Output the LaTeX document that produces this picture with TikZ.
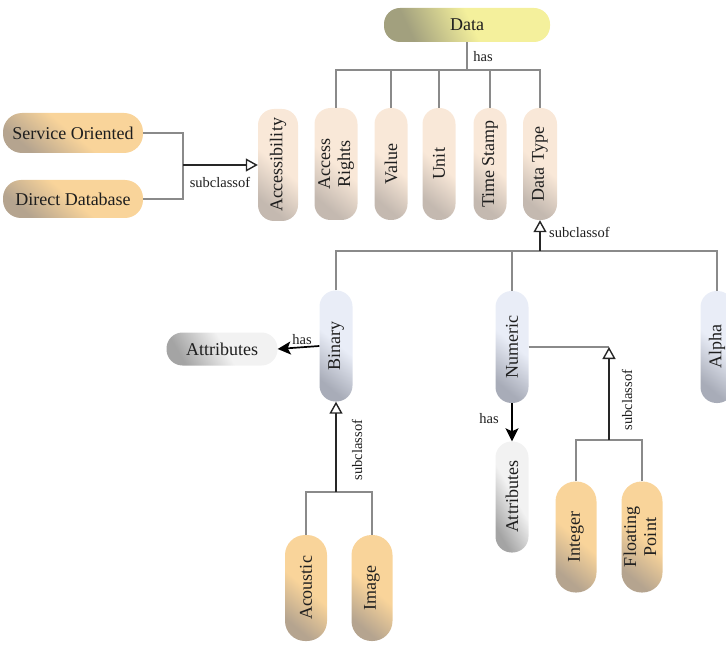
\documentclass[tikz,border=0pt]{standalone}
\usepackage{fontspec}
\usepackage{graphicx}
\setmainfont{Liberation Serif}
\usetikzlibrary{arrows.meta,calc}

\definecolor{txt}{HTML}{1E1E1E}
\definecolor{orangeL}{HTML}{F9D49A}
\definecolor{orangeD}{HTML}{B5A48F}
\definecolor{peachL}{HTML}{F9E8D8}
\definecolor{peachD}{HTML}{C4B9B0}
\definecolor{blueL}{HTML}{E9EDF7}
\definecolor{blueD}{HTML}{A8ACB8}
\definecolor{grayL}{HTML}{F2F2F2}
\definecolor{grayD}{HTML}{A4A4A4}
\definecolor{dataL}{HTML}{F4F09C}
\definecolor{dataD}{HTML}{A2A07E}
\definecolor{linegray}{HTML}{8A8A8A}

% pill shadings: light over most of the body, darkening toward one corner
\pgfdeclareverticalshading{shorange}{100bp}{color(0bp)=(orangeD); color(26bp)=(orangeD); color(50bp)=(orangeL); color(100bp)=(orangeL)}
\pgfdeclareverticalshading{shpeach}{100bp}{color(0bp)=(peachD); color(26bp)=(peachD); color(50bp)=(peachL); color(100bp)=(peachL)}
\pgfdeclareverticalshading{shblue}{100bp}{color(0bp)=(blueD); color(26bp)=(blueD); color(52bp)=(blueL); color(100bp)=(blueL)}
\pgfdeclareverticalshading{shgray}{100bp}{color(0bp)=(grayD); color(26bp)=(grayD); color(52bp)=(grayL); color(100bp)=(grayL)}
\pgfdeclareverticalshading{shdata}{100bp}{color(0bp)=(dataD); color(28bp)=(dataD); color(52bp)=(dataL); color(100bp)=(dataL)}

\newcommand\pillfont{\fontsize{18}{20}\selectfont}
\newcommand\lblfont{\fontsize{14.5}{16}\selectfont}
\newcommand\vtext[1]{\rotatebox{90}{#1}}
\newcommand\vtwo[2]{\rotatebox{90}{\begin{tabular}{@{}c@{}}#1\\#2\end{tabular}}}

\tikzset{
  pill/.style={inner sep=0pt, align=center, font=\pillfont, text=txt},
  vpill/.style={pill, minimum width=#1, minimum height=112pt, rounded corners=16pt},
  vpill/.default=33pt,
  orangefill/.style={shading=shorange, shading angle=-40},
  peachfill/.style={shading=shpeach, shading angle=-40},
  bluefill/.style={shading=shblue, shading angle=-40},
  grayfill/.style={shading=shgray, shading angle=-60},
  datafill/.style={shading=shdata, shading angle=-65},
  conn/.style={draw=linegray, line width=1.1pt},
  sub/.style={draw=black!85, line width=1.7pt, -{Triangle[open, length=12pt, width=13pt, line width=1.4pt]}},
  has/.style={draw=black, line width=1.7pt, -{Stealth[length=13pt, width=13pt, inset=3pt]}},
  lbl/.style={font=\lblfont, text=txt, inner sep=1pt},
}

\begin{document}
\begin{tikzpicture}[x=1pt, y=-1pt]
\useasboundingbox (0,0) rectangle (726,647);
\clip (0,0) rectangle (726,647);

% root
\node[pill, datafill, minimum width=166pt, minimum height=34pt, rounded corners=16pt] (data) at (467,25) {Data};

% properties of Data
\node[vpill=40pt, peachfill] (access) at (278,165) {\vtext{Accessibility}};
\node[vpill=43pt, peachfill] (rights) at (336,164) {\vtwo{Access}{Rights}};
\node[vpill, peachfill] (value) at (391,164) {\vtext{Value}};
\node[vpill, peachfill] (unit) at (439,164) {\vtext{Unit}};
\node[vpill, peachfill] (stamp) at (490,164) {\vtext{Time Stamp}};
\node[vpill=34pt, peachfill] (dtype) at (540,164) {\vtext{Data Type}};

% accessibility kinds
\node[pill, orangefill, minimum width=140pt, minimum height=40pt, rounded corners=19pt] (svc) at (73,133) {Service Oriented};
\node[pill, orangefill, minimum width=140pt, minimum height=38pt, rounded corners=18pt] (ddb) at (73,199) {Direct Database};

% data types
\node[vpill, bluefill, minimum height=111pt] (binary) at (336,346) {\vtext{Binary}};
\node[vpill, bluefill] (numeric) at (512,347) {\vtext{Numeric}};
\node[vpill, bluefill] (alpha) at (717,347) {\vtext{Alpha}};

% attributes
\node[pill, grayfill, minimum width=111pt, minimum height=33pt, rounded corners=16pt] (attrb) at (222,349) {Attributes};
\node[vpill, grayfill, minimum height=111pt] (attrn) at (512,497) {\vtext{Attributes}};

% binary kinds
\node[vpill=42pt, orangefill, minimum height=106pt, rounded corners=20pt] (acoustic) at (306,588) {\vtext{Acoustic}};
\node[vpill=41pt, orangefill, minimum height=106pt, rounded corners=20pt] (image) at (372,588) {\vtext{Image}};

% numeric kinds
\node[vpill=41pt, orangefill, minimum height=111pt, rounded corners=20pt] (integer) at (576,537) {\vtext{Integer}};
\node[vpill=41pt, orangefill, minimum height=111pt, rounded corners=20pt] (floating) at (642,537) {\vtwo{Floating}{Point}};

% junctions
\coordinate (hasj) at (467,70);
\coordinate (accj) at (183,165);
\coordinate (dtj) at (540,251);
\coordinate (binj) at (336,492);
\coordinate (numj) at (609,440);

% Data has ...
\draw[conn] (data.south) -- (hasj);
\foreach \n in {rights,value,unit,stamp,dtype}
  \draw[conn] (\n.north) |- (hasj);
\node[lbl] at (483,57) {has};

% accessibility subclasses
\draw[conn] (svc.east) -| (accj);
\draw[conn] (ddb.east) -| (accj);
\draw[sub] (accj) -- (access.west);
\node[lbl] at (220,182) {subclassof};

% data type subclasses
\foreach \n in {binary,numeric,alpha}
  \draw[conn] (\n.north) |- (dtj);
\draw[sub] (dtj) -- (dtype.south);
\node[lbl, anchor=west] at (548,232) {subclassof};

% binary
\draw[has] (binary.west) -- (attrb.east);
\node[lbl] at (302,340) {has};
\foreach \n in {acoustic,image}
  \draw[conn] (\n.north) |- (binj);
\draw[sub] (binj) -- (binary.south);
\node[lbl, rotate=90] at (357,450) {subclassof};

% numeric
\draw[has] (numeric.south) -- (attrn.north);
\node[lbl] at (489,419) {has};
\foreach \n in {integer,floating}
  \draw[conn] (\n.north) |- (numj);
\draw[conn] (numeric.east) -- (numj |- numeric.east);
\draw[sub] (numj) -- (numj |- numeric.east);
\node[lbl, rotate=90] at (627,400) {subclassof};
\end{tikzpicture}
\end{document}
